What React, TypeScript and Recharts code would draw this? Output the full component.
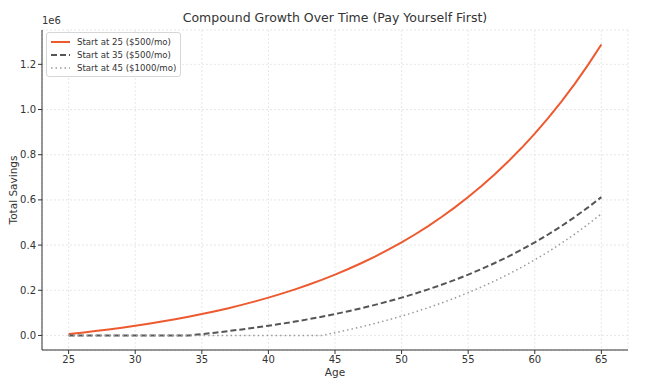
import React from 'react';
import { LineChart, Line, XAxis, YAxis, CartesianGrid } from 'recharts';

const ages = [25,26,27,28,29,30,31,32,33,34,35,36,37,38,39,40,41,42,43,44,45,46,47,48,49,50,51,52,53,54,55,56,57,58,59,60,61,62,63,64,65];

const start25 = [6000,12420,19289,26640,34504,42920,51924,61559,71868,82899,94702,107331,120844,135303,150774,167328,185041,203994,224274,245973,269191,294034,320617,349060,379494,412059,446903,484186,524079,566765,612438,661309,713601,769553,829421,893481,962024,1035366,1113842,1197811,1287657];

const start35 = [0,0,0,0,0,0,0,0,0,0,6000,12420,19289,26640,34504,42920,51924,61559,71868,82899,94702,107331,120844,135303,150774,167328,185041,203994,224274,245973,269191,294034,320617,349060,379494,412059,446903,484186,524079,566765,612438];

const start45 = [0,0,0,0,0,0,0,0,0,0,0,0,0,0,0,0,0,0,0,0,12000,24840,38578,53280,69008,85840,103848,123118,143736,165798,189404,214662,241688,270606,301548,334656,370082,407988,448548,491946,538382];

const seriesNames = ['Start at 25 ($500/mo)', 'Start at 35 ($500/mo)', 'Start at 45 ($1000/mo)'];
const xTicks = [25,30,35,40,45,50,55,60,65];
const yTicks = [0,200000,400000,600000,800000,1000000,1200000];

const data = ages.map((age, i) => ({ age, s25: start25[i], s35: start35[i], s45: start45[i] }));

const FONT = '"DejaVu Sans", sans-serif';
const TXT = '#333';

const legendStyles = [
  { stroke: '#EE5A2F', dash: undefined, width: 2 },
  { stroke: '#555555', dash: '6 3', width: 2 },
  { stroke: '#9a9a9a', dash: '1.5 3', width: 1.5 },
];

const LegendBox = () => (
  <div style={{ position: 'absolute', left: 46, top: 32, zIndex: 2, background: 'rgba(255,255,255,0.85)', border: '1px solid #d6d6d6', borderRadius: 3, padding: '2px 4px 2px 3px', fontFamily: FONT, fontSize: 8.6, color: TXT, whiteSpace: 'nowrap' }}>
    {seriesNames.map((n, i) => (
      <div key={n} style={{ display: 'flex', alignItems: 'center', height: 13 }}>
        <svg width={21} height={8} style={{ marginRight: 6 }}>
          <line x1={1} y1={4} x2={20} y2={4} stroke={legendStyles[i].stroke} strokeWidth={legendStyles[i].width} strokeDasharray={legendStyles[i].dash} />
        </svg>
        <span>{n}</span>
      </div>
    ))}
  </div>
);

export default function App() {
  return (
    <div style={{ position: 'absolute', left: 0, top: 0, width: 652, height: 378, background: '#fff' }}>
      <div style={{ position: 'absolute', left: 0, width: 670, top: 10, textAlign: 'center', fontFamily: FONT, fontSize: 12.5, color: TXT }}>
        Compound Growth Over Time (Pay Yourself First)
      </div>
      <div style={{ position: 'absolute', left: 42, top: 15, fontFamily: FONT, fontSize: 10, color: TXT }}>1e6</div>
      <div style={{ position: 'absolute', left: 0, width: 670, top: 366, textAlign: 'center', fontFamily: FONT, fontSize: 10.5, color: TXT, lineHeight: '12px' }}>Age</div>
      <LineChart width={652} height={378} data={data} margin={{ top: 30, right: 24, bottom: 0, left: 0 }}>
        <CartesianGrid stroke="#dcdcdc" strokeDasharray="2 2" strokeWidth={0.7} />
        <XAxis
          dataKey="age"
          type="number"
          domain={[23, 67]}
          ticks={xTicks}
          allowDataOverflow
          height={28}
          stroke="#333"
          tickSize={4}
          tick={{ fill: TXT, fontSize: 10, fontFamily: FONT }}
        />
        <YAxis
          type="number"
          domain={[-64383, 1352040]}
          ticks={yTicks}
          allowDataOverflow
          width={42}
          stroke="#333"
          tickSize={4}
          tickFormatter={(v: number) => (v / 1e6).toFixed(1)}
          tick={{ fill: TXT, fontSize: 10, fontFamily: FONT }}
          label={{ value: 'Total Savings', angle: -90, position: 'insideLeft', offset: 13, fill: TXT, fontSize: 10.5, fontFamily: FONT, style: { textAnchor: 'middle' } }}
        />
        <Line type="linear" dataKey="s25" name={seriesNames[0]} stroke="#EE5A2F" strokeWidth={2} dot={false} isAnimationActive={false} />
        <Line type="linear" dataKey="s35" name={seriesNames[1]} stroke="#555555" strokeWidth={2} strokeDasharray="6 3" dot={false} isAnimationActive={false} />
        <Line type="linear" dataKey="s45" name={seriesNames[2]} stroke="#9a9a9a" strokeWidth={1.5} strokeDasharray="1.5 3" dot={false} isAnimationActive={false} />
      </LineChart>
      <LegendBox />
    </div>
  );
}
